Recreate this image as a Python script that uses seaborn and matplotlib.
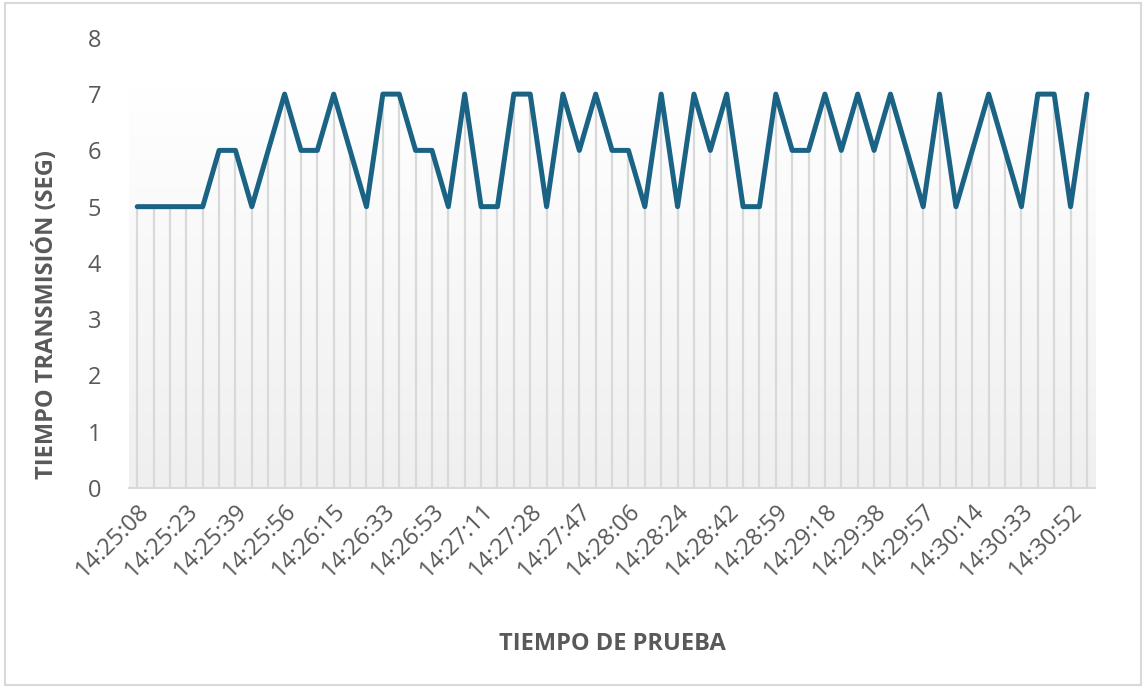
"""
Tiempo de transmisión por muestra durante la prueba.
Línea con líneas de caída hacia el eje y fondo degradado, estilo hoja de cálculo.
"""

import numpy as np
import pandas as pd
import matplotlib
matplotlib.use("Agg")
import matplotlib.pyplot as plt
from matplotlib.colors import LinearSegmentedColormap
from matplotlib.patches import Rectangle
import seaborn as sns

# ---------------------------------------------------------------------------
# Datos
# ---------------------------------------------------------------------------

tiempo_seg = [
    5, 5, 5, 5, 5, 6, 6, 5, 6, 7,
    6, 6, 7, 6, 5, 7, 7, 6, 6, 5,
    7, 5, 5, 7, 7, 5, 7, 6, 7, 6,
    6, 5, 7, 5, 7, 6, 7, 5, 5, 7,
    6, 6, 7, 6, 7, 6, 7, 6, 5, 7,
    5, 6, 7, 6, 5, 7, 7, 5, 7,
]

etiquetas_x = [
    "14:25:08", "14:25:23", "14:25:39", "14:25:56", "14:26:15",
    "14:26:33", "14:26:53", "14:27:11", "14:27:28", "14:27:47",
    "14:28:06", "14:28:24", "14:28:42", "14:28:59", "14:29:18",
    "14:29:38", "14:29:57", "14:30:14", "14:30:33", "14:30:52",
]
PASO_ETIQUETA = 3

y_ticks = [0, 1, 2, 3, 4, 5, 6, 7, 8]

LINE_COLOR = "#1a6385"
DROP_COLOR = "#d9d9d9"
TEXT_COLOR = "#595959"

# ---------------------------------------------------------------------------
# Figura
# ---------------------------------------------------------------------------

sns.set_style("white")
plt.rcParams["font.family"] = ["Open Sans", "DejaVu Sans"]

df = pd.DataFrame({"muestra": np.arange(len(tiempo_seg)), "tiempo": tiempo_seg})
n = len(df)

fig = plt.figure(figsize=(11.46, 6.88), dpi=100)
ax = fig.add_axes([0.1126, 0.2907, 0.843, 0.6543])

# fondo degradado (gris claro abajo, blanco arriba)
grad = np.linspace(0, 1, 256).reshape(-1, 1)
cmap = LinearSegmentedColormap.from_list("fondo", ["#efefef", "#ffffff"])
ax.imshow(grad, extent=[-0.5, n - 0.5, 0, max(tiempo_seg) + 0.14],
          origin="lower", aspect="auto", cmap=cmap, zorder=0)

# líneas de caída
ax.vlines(df["muestra"], 0, df["tiempo"], color=DROP_COLOR, linewidth=1.6, zorder=1)

sns.lineplot(data=df, x="muestra", y="tiempo", color=LINE_COLOR,
             linewidth=3.6, ax=ax, zorder=3,
             solid_joinstyle="round", solid_capstyle="round")

ax.set_xlim(-0.5, n - 0.5)
ax.set_ylim(0, 8)
ax.set_yticks(y_ticks)
ax.set_xticks(np.arange(0, n, PASO_ETIQUETA)[:len(etiquetas_x)])
ax.set_xticklabels(etiquetas_x, rotation=45, ha="right", rotation_mode="anchor")

ax.tick_params(axis="y", length=0, pad=20, labelsize=17, labelcolor=TEXT_COLOR)
ax.tick_params(axis="x", length=0, pad=8, labelsize=17, labelcolor=TEXT_COLOR)

for side in ["top", "right", "left"]:
    ax.spines[side].set_visible(False)
ax.spines["bottom"].set_color(DROP_COLOR)
ax.spines["bottom"].set_linewidth(1.5)

ax.set_xlabel("TIEMPO DE PRUEBA", fontsize=17, fontweight="bold",
              color=TEXT_COLOR, labelpad=36)
ax.set_ylabel("TIEMPO TRANSMISIÓN (SEG)", fontsize=17, fontweight="bold",
              color=TEXT_COLOR)
# en el original el título del eje y queda desplazado hacia abajo
ax.yaxis.set_label_coords(-0.072, 0.385)

# marco exterior
fig.patches.append(Rectangle((0.004, 0.004), 0.992, 0.991, transform=fig.transFigure,
                             fill=False, edgecolor="#d9d9d9", linewidth=1.5))

fig.savefig("out.png", dpi=100)
